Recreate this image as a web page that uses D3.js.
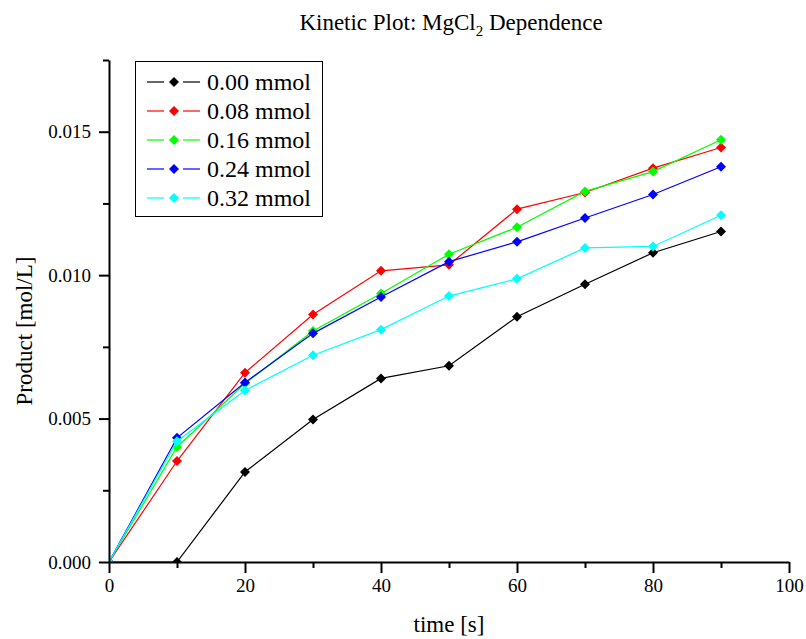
<!DOCTYPE html>
<html>
<head>
<meta charset="utf-8">
<script src="https://cdn.jsdelivr.net/npm/d3@7"></script>
<style>
  body { margin: 0; background: #fff; }
  svg { display: block; font-family: "Liberation Serif", "Times New Roman", serif; }
</style>
</head>
<body>
<script>
const width = 806;
const height = 639;

// data
const times = [0, 10, 20, 30, 40, 50, 60, 70, 80, 90];
const mg000 = [0, 0, 0.00314, 0.00497, 0.00640, 0.00684, 0.00855, 0.00968, 0.01078, 0.01152];
const mg008 = [0, 0.00352, 0.00660, 0.00863, 0.01015, 0.01036, 0.01230, 0.01288, 0.01373, 0.01445];
const mg016 = [0, 0.00401, 0.00622, 0.00805, 0.00936, 0.01073, 0.01167, 0.01292, 0.01361, 0.01472];
const mg024 = [0, 0.00433, 0.00626, 0.00797, 0.00924, 0.01047, 0.01116, 0.01199, 0.01281, 0.01378];
const mg032 = [0, 0.00421, 0.00598, 0.00721, 0.00810, 0.00927, 0.00987, 0.01095, 0.01100, 0.01209];
const seriesNames = ['0.00 mmol', '0.08 mmol', '0.16 mmol', '0.24 mmol', '0.32 mmol'];
const seriesColors = ['#000000', '#ff0000', '#00ff00', '#0000ff', '#00ffff'];
const xTicks = [0, 20, 40, 60, 80, 100];
const xMinor = [10, 30, 50, 70, 90];
const yTicks = [0, 0.005, 0.010, 0.015];
const yMinor = [0.0025, 0.0075, 0.0125, 0.0175];

const series = [mg000, mg008, mg016, mg024, mg032].map((vals, i) => ({
  name: seriesNames[i],
  color: seriesColors[i],
  points: vals.map((v, j) => [times[j], v]),
}));

const margin = { top: 60, right: 17, bottom: 77, left: 109 };

const svg = d3.select('body').append('svg')
  .attr('width', width)
  .attr('height', height);

const x = d3.scaleLinear().domain([0, 100]).range([margin.left, width - margin.right]);
const y = d3.scaleLinear().domain([0, 0.0175]).range([height - margin.bottom, margin.top]);

svg.append('clipPath').attr('id', 'plot')
  .append('rect')
  .attr('x', margin.left)
  .attr('y', margin.top)
  .attr('width', x(100) - margin.left)
  .attr('height', y(0) - margin.top);

const diamond = 'M0,-5L5,0L0,5L-5,0Z';

const line = d3.line().x(d => x(d[0])).y(d => y(d[1]));

const plot = svg.append('g').attr('clip-path', 'url(#plot)');

series.forEach(s => {
  const g = plot.append('g');
  g.append('path')
    .attr('d', line(s.points))
    .attr('fill', 'none')
    .attr('stroke', s.color)
    .attr('stroke-width', 1.2);
  g.selectAll('path.m')
    .data(s.points)
    .enter()
    .append('path')
    .attr('class', 'm')
    .attr('d', diamond)
    .attr('transform', d => `translate(${x(d[0])},${y(d[1])})`)
    .attr('fill', s.color);
});

// axes
const xAxis = svg.append('g')
  .attr('transform', `translate(0,${y(0)})`)
  .call(d3.axisBottom(x).tickValues(xTicks).tickSize(11).tickSizeOuter(0).tickPadding(6).tickFormat(d3.format('d')));
svg.append('g')
  .attr('transform', `translate(0,${y(0)})`)
  .call(d3.axisBottom(x).tickValues(xMinor).tickSize(6).tickSizeOuter(0).tickFormat(''))
  .select('.domain').remove();

const yAxis = svg.append('g')
  .attr('transform', `translate(${x(0)},0)`)
  .call(d3.axisLeft(y).tickValues(yTicks).tickSize(10).tickSizeOuter(0).tickPadding(8).tickFormat(d3.format('.3f')));
svg.append('g')
  .attr('transform', `translate(${x(0)},0)`)
  .call(d3.axisLeft(y).tickValues(yMinor).tickSize(6).tickSizeOuter(0).tickFormat(''))
  .select('.domain').remove();

svg.selectAll('.domain, .tick line')
  .attr('stroke', '#000')
  .attr('stroke-width', 2);
svg.selectAll('.tick text')
  .attr('fill', '#000')
  .style('font-family', '"Liberation Serif", serif')
  .style('font-size', '19px');

// titles
const title = svg.append('text')
  .attr('x', 451)
  .attr('y', 30)
  .attr('text-anchor', 'middle')
  .style('font-size', '23px');
title.append('tspan').text('Kinetic Plot: MgCl');
title.append('tspan').attr('dy', 6).style('font-size', '15px').text('2');
title.append('tspan').attr('dy', -6).text(' Dependence');

svg.append('text')
  .attr('x', (x(0) + x(100)) / 2)
  .attr('y', 632)
  .attr('text-anchor', 'middle')
  .style('font-size', '23px')
  .text('time [s]');

svg.append('text')
  .attr('transform', 'translate(32,331) rotate(-90)')
  .attr('text-anchor', 'middle')
  .style('font-size', '23px')
  .text('Product [mol/L]');

// legend
const legend = svg.append('g').attr('transform', 'translate(135,61)');
legend.append('rect')
  .attr('x', 0.5)
  .attr('y', 0.5)
  .attr('width', 187)
  .attr('height', 155)
  .attr('fill', '#fff')
  .attr('stroke', '#000')
  .attr('stroke-width', 1);

const rows = legend.selectAll('g.row')
  .data(series)
  .enter()
  .append('g')
  .attr('class', 'row')
  .attr('transform', (d, i) => `translate(0,${21 + i * 29})`);

rows.append('line').attr('x1', 12).attr('x2', 29).attr('stroke', d => d.color).attr('stroke-width', 1.2);
rows.append('line').attr('x1', 48).attr('x2', 65).attr('stroke', d => d.color).attr('stroke-width', 1.2);
rows.append('path')
  .attr('d', diamond)
  .attr('transform', 'translate(39,0)')
  .attr('fill', d => d.color);
rows.append('text')
  .attr('x', 72)
  .attr('y', 8)
  .style('font-size', '24px')
  .text(d => d.name);
</script>
</body>
</html>
